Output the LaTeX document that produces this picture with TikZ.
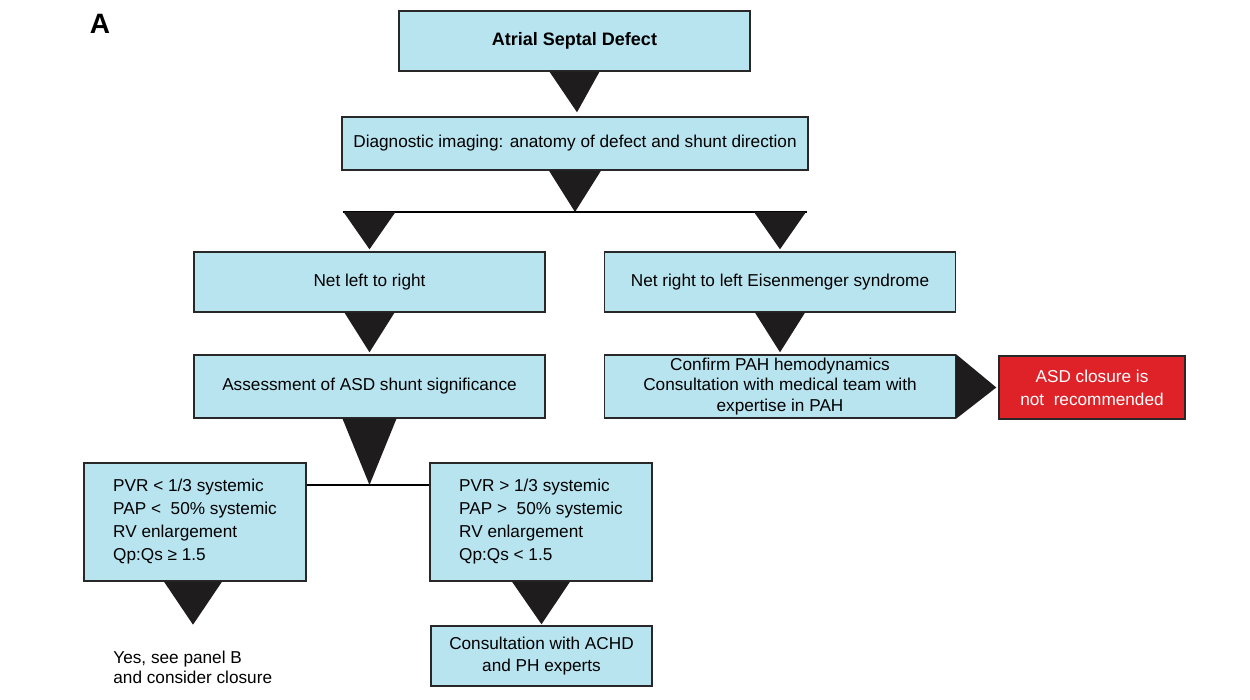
\documentclass[tikz,border=0pt]{standalone}
\usepackage{fontspec}
\setmainfont{Liberation Sans}
\usetikzlibrary{calc}
\definecolor{boxblue}{RGB}{184,228,240}
\definecolor{boxred}{RGB}{222,34,40}
\definecolor{edgecol}{RGB}{40,40,40}
\definecolor{trifill}{RGB}{30,28,28}
\begin{document}
\begin{tikzpicture}[x=0.5pt,y=-0.5pt,
  box/.style={draw=edgecol, line width=0.7pt, fill=boxblue, inner sep=0pt, align=center,
    font=\fontsize{8.6}{10.3}\selectfont},
  redbox/.style={box, fill=boxred, text=white, font=\fontsize{8.6}{11.5}\selectfont},
  lbox/.style={box, align=left, font=\fontsize{8.6}{11.5}\selectfont},
  trishape/.style={fill=trifill},
  link/.style={draw=black, line width=0.8pt}]
\useasboundingbox (0,0) rectangle (1250,700);

\node[font=\bfseries\fontsize{14}{16}\selectfont, inner sep=0pt] (lab) at (100,24) {A};

\node[box, font=\bfseries\fontsize{9}{11}\selectfont, minimum width=175.5pt, minimum height=30pt] (asd) at (574.5,41) {Atrial Septal Defect};
\node[box, minimum width=233pt, minimum height=26.5pt] (diag) at (575,143.5) {Diagnostic imaging: anatomy of defect and shunt direction};
\node[box, minimum width=175.5pt, minimum height=30pt] (lr) at (369.5,282) {Net left to right};
\node[box, minimum width=175.5pt, minimum height=30pt] (rl) at (780,282) {Net right to left Eisenmenger syndrome};
\node[box, minimum width=175.5pt, minimum height=31.5pt] (assess) at (369.5,386.5) {Assessment of ASD shunt significance};
\node[box, minimum width=175.5pt, minimum height=31.5pt] (confirm) at (780,386.5) {Confirm PAH hemodynamics\\Consultation with medical team with\\expertise in PAH};
\node[redbox, minimum width=93pt, minimum height=31.5pt] (notrec) at (1092,387.5) {ASD closure is\\not\ \ recommended};
\node[lbox, minimum width=111pt, minimum height=59pt] (low) at (195,522)
  {PVR < 1/3 systemic\\PAP <\ \ 50\% systemic\\RV enlargement\\Qp:Qs ≥ 1.5};
\node[lbox, minimum width=111pt, minimum height=59pt] (high) at (541,522)
  {PVR > 1/3 systemic\\PAP >\ \ 50\% systemic\\RV enlargement\\Qp:Qs < 1.5};
\node[box, minimum width=110.5pt, minimum height=30pt, font=\fontsize{8.6}{11}\selectfont] (consult) at (541.5,656) {Consultation with ACHD\\and PH experts};
\node[anchor=north west, align=left, inner sep=0pt, font=\fontsize{8.6}{10}\selectfont] (yes) at (113,651) {Yes, see panel B\\and consider closure};

% triangles
\fill[trishape] ($(asd.south)+(-25,0)$) -- ($(asd.south)+(25,0)$) -- ($(diag.north)+(2,-4)$) -- cycle;
\coordinate (j1) at (575,212);
\fill[trishape] ($(diag.south)+(-26,0)$) -- ($(diag.south)+(26,0)$) -- (j1) -- cycle;
\draw[link] ($(j1 -| lr.north)+(-27,0)$) -- ($(j1 -| rl.north)+(27,0)$);
\fill[trishape] ($(j1 -| lr.north)+(-26,0)$) -- ($(j1 -| lr.north)+(26,0)$) -- ($(lr.north)+(0,-2)$) -- cycle;
\fill[trishape] ($(j1 -| rl.north)+(-26,0)$) -- ($(j1 -| rl.north)+(26,0)$) -- ($(rl.north)+(0,-2)$) -- cycle;
\fill[trishape] ($(lr.south)+(-25,0)$) -- ($(lr.south)+(25,0)$) -- ($(assess.north)+(0,-2)$) -- cycle;
\fill[trishape] ($(rl.south)+(-25,0)$) -- ($(rl.south)+(25,0)$) -- ($(confirm.north)+(0,-2)$) -- cycle;
\fill[trishape] (confirm.north east) -- (confirm.south east) -- ($(notrec.west)+(-2,0)$) -- cycle;
\coordinate (j2) at (369.5,485);
\draw[link] (j2 -| low.east) -- (j2 -| high.west);
\fill[trishape] ($(assess.south)+(-27,0)$) -- ($(assess.south)+(27,0)$) -- (j2) -- cycle;
\fill[trishape] ($(low.south)+(-31,0)$) -- ($(low.south)+(27,0)$) -- ($(low.south)+(-2,43)$) -- cycle;
\fill[trishape] ($(high.south)+(-29,0)$) -- ($(high.south)+(29,0)$) -- ($(consult.north)+(0,-1)$) -- cycle;
\end{tikzpicture}
\end{document}
